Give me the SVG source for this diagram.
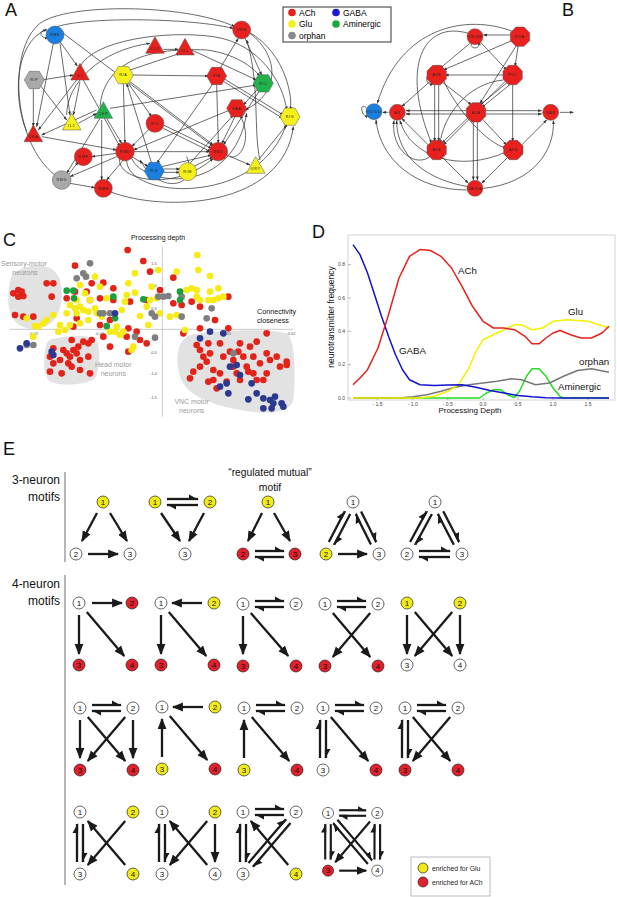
<svg xmlns="http://www.w3.org/2000/svg" xmlns:xlink="http://www.w3.org/1999/xlink" width="617" height="897" viewBox="0 0 617 897">
<style>
text{font-family:"Liberation Sans",Arial,sans-serif;}
.pl{font-size:18px;fill:#111;}
.ed{fill:none;stroke:#333;stroke-width:2.2;marker-end:url(#sa);}
.nl{font-size:11px;fill:#222;text-anchor:middle;letter-spacing:2px;}
.R{fill:#e8211e;stroke:#555;stroke-width:1.5;}
.Y{fill:#f5ef1a;stroke:#555;stroke-width:1.5;}
.G{fill:#a9a9a9;stroke:#555;stroke-width:1.5;}
.B{fill:#1a7fe0;stroke:#555;stroke-width:1.5;}
.N{fill:#22b24c;stroke:#555;stroke-width:1.5;}
.cr{fill:#e2231a;}.cy{fill:#f6eb16;}.cg{fill:#7f7f7f;}.cn{fill:#1a9f3c;}.cb{fill:#2b3990;}
.tk{font-size:12px;fill:#555;text-anchor:middle;}
.blab{font-size:21px;fill:#9a9a9a;text-anchor:middle;}
.crv{fill:none;stroke-width:1.5;stroke-linejoin:round;}
.dl{font-size:9.7px;fill:#111;}
.dt{font-size:5px;fill:#444;}
.ar{stroke:#1a1a1a;stroke-width:2.3;marker-end:url(#ah);}
.hr{stroke:#1a1a1a;stroke-width:2.3;marker-end:url(#hh);}
.w{fill:#fff;stroke:#222;stroke-width:0.7;}
.y{fill:#f2ea16;stroke:#222;stroke-width:0.7;}
.r{fill:#e0202a;stroke:#222;stroke-width:0.7;}
.nt{font-size:8px;fill:#111;text-anchor:middle;}
.lab{font-size:12px;fill:#111;text-anchor:end;}
</style>
<defs>
<marker id="ah" viewBox="0 -5 10 10" refX="9" refY="0" markerWidth="11" markerHeight="11" markerUnits="userSpaceOnUse" orient="auto"><path d="M0,-4 L10,0 L0,4 Z" fill="#1a1a1a"/></marker>
<marker id="hh" viewBox="0 -5 10 10" refX="9" refY="0" markerWidth="10" markerHeight="10" markerUnits="userSpaceOnUse" orient="auto"><path d="M0,-4.5 L10,1.1 L0,1.1 Z" fill="#1a1a1a"/></marker>
<marker id="sa" viewBox="0 -5 10 10" refX="9" refY="0" markerWidth="12" markerHeight="12" markerUnits="userSpaceOnUse" orient="auto"><path d="M0,-3.5 L10,0 L0,3.5 Z" fill="#333"/></marker>
<path id="hex" d="M-30,0 L-15,-26 L15,-26 L30,0 L15,26 L-15,26 Z"/>
<path id="oct" d="M-12,-29 L12,-29 L29,-12 L29,12 L12,29 L-12,29 L-29,12 L-29,-12 Z"/>
<path id="tri" d="M0,-30 L28,20 L-28,20 Z"/>
</defs>
<rect width="617" height="897" fill="#fff"/>

<!-- Panel A -->
<text class="pl" x="5" y="16">A</text>
<g id="panelA" transform="scale(0.33333)">
<g id="A-edges">
<path class="ed" d="M160,130 L110,380"/>
<path class="ed" d="M180,130 L210,345"/>
<path class="ed" d="M180,125 L232,198"/>
<path class="ed" d="M190,100 L640,440"/>
<path class="ed" d="M145,95 C115,80 115,120 145,112"/>
<path class="ed" d="M125,240 L220,225"/>
<path class="ed" d="M100,265 L100,380"/>
<path class="ed" d="M120,255 L200,360"/>
<path class="ed" d="M230,240 L115,390"/>
<path class="ed" d="M240,245 L220,345"/>
<path class="ed" d="M250,240 L360,440"/>
<path class="ed" d="M125,410 L350,450"/>
<path class="ed" d="M235,370 L290,340"/>
<path class="ed" d="M290,330 L125,405"/>
<path class="ed" d="M320,355 L365,430"/>
<path class="ed" d="M305,360 L305,540"/>
<path class="ed" d="M330,325 L770,255"/>
<path class="ed" d="M300,355 L200,520"/>
<path class="ed" d="M370,250 L375,430"/>
<path class="ed" d="M385,250 L455,350"/>
<path class="ed" d="M395,225 L625,228"/>
<path class="ed" d="M390,245 L640,435"/>
<path class="ed" d="M390,210 L540,160"/>
<path class="ed" d="M490,148 L535,148"/>
<path class="ed" d="M575,150 L770,240"/>
<path class="ed" d="M660,205 L715,115"/>
<path class="ed" d="M650,255 L655,430"/>
<path class="ed" d="M640,250 L470,490"/>
<path class="ed" d="M670,235 L850,345"/>
<path class="ed" d="M672,245 L848,355"/>
<path class="ed" d="M735,115 L785,225"/>
<path class="ed" d="M780,270 L670,435"/>
<path class="ed" d="M775,265 L730,315"/>
<path class="ed" d="M705,350 L665,432"/>
<path class="ed" d="M690,330 L400,450"/>
<path class="ed" d="M490,375 L635,445"/>
<path class="ed" d="M490,385 L632,455"/>
<path class="ed" d="M450,385 L395,440"/>
<path class="ed" d="M400,455 L630,455"/>
<path class="ed" d="M350,460 L275,470"/>
<path class="ed" d="M350,470 L210,530"/>
<path class="ed" d="M370,480 L320,540"/>
<path class="ed" d="M395,470 L445,500"/>
<path class="ed" d="M490,507 L540,507"/>
<path class="ed" d="M490,517 L540,517"/>
<path class="ed" d="M485,500 L635,465"/>
<path class="ed" d="M580,500 L640,470"/>
<path class="ed" d="M680,465 L750,495"/>
<path class="ed" d="M775,480 L860,375"/>
<path class="ed" d="M205,525 L235,485"/>
<path class="ed" d="M210,550 L285,563"/>
<path class="ed" d="M570,490 L700,345"/>
<path class="ed" d="M455,490 L380,250"/>
<path class="ed" d="M165,525 C40,430 20,150 120,70 C200,10 550,10 705,80"/>
<path class="ed" d="M150,90 C200,50 550,50 700,85"/>
<path class="ed" d="M80,395 C40,300 40,130 140,88"/>
<path class="ed" d="M330,575 C500,640 850,620 880,380"/>
<path class="ed" d="M380,480 C380,600 780,620 860,370"/>
<path class="ed" d="M395,475 C430,560 700,590 740,340"/>
<path class="ed" d="M745,95 C860,160 880,300 870,330"/>
<path class="ed" d="M750,100 C840,170 840,280 735,330"/>
<path class="ed" d="M300,320 C310,200 420,140 620,150 C700,160 760,200 780,230"/>
<path class="ed" d="M240,200 C280,120 500,90 640,110 C780,130 850,250 860,330"/>
<path class="ed" d="M200,345 C200,250 300,150 450,130"/>
<path class="ed" d="M560,470 C600,560 480,590 420,480"/>
<path class="ed" d="M780,480 C760,400 780,250 740,120"/>
<path class="ed" d="M360,470 C340,540 520,580 640,475"/>
<path class="ed" d="M690,470 C720,480 760,420 720,345"/>
</g>
<g id="A-RME"><circle class="B" cx="165" cy="105" r="27"/><text class="nl" x="165" y="109">RME</text></g>
<g id="A-IL1"><use href="#tri" class="R" x="240" y="220"/><text class="nl" x="240" y="230">IL1</text></g>
<g id="A-RIP"><use href="#hex" class="G" x="103" y="240"/><text class="nl" x="103" y="244">RIP</text></g>
<g id="A-URA"><use href="#tri" class="R" x="100" y="405"/><text class="nl" x="100" y="415">URA</text></g>
<g id="A-ILE"><use href="#tri" class="Y" x="215" y="370"/><text class="nl" x="215" y="380">IL2</text></g>
<g id="A-CEP"><use href="#tri" class="N" x="310" y="335"/><text class="nl" x="310" y="345">CEP</text></g>
<g id="A-RIA"><use href="#hex" class="Y" x="370" y="225"/><text class="nl" x="370" y="229">RIA</text></g>
<g id="A-OLQ"><use href="#tri" class="R" x="465" y="140"/><text class="nl" x="465" y="150">OLQ</text></g>
<g id="A-OLL"><use href="#tri" class="R" x="555" y="145"/><text class="nl" x="555" y="155">OLL</text></g>
<g id="A-URB"><circle class="R" cx="725" cy="90" r="27"/><text class="nl" x="725" y="94">URB</text></g>
<g id="A-SIB"><use href="#hex" class="R" x="650" y="228"/><text class="nl" x="650" y="232">SIB</text></g>
<g id="A-RIC"><use href="#hex" class="N" x="790" y="250"/><text class="nl" x="790" y="254">RIC</text></g>
<g id="A-SAA"><use href="#hex" class="R" x="710" y="325"/><text class="nl" x="710" y="329">SAA</text></g>
<g id="A-RIG"><use href="#hex" class="Y" x="870" y="350"/><text class="nl" x="870" y="354">RIG</text></g>
<g id="A-RIV"><circle class="R" cx="465" cy="370" r="27"/><text class="nl" x="465" y="374">RIV</text></g>
<g id="A-RMD"><circle class="R" cx="375" cy="455" r="28"/><text class="nl" x="375" y="459">RMD</text></g>
<g id="A-SMD"><circle class="R" cx="655" cy="455" r="28"/><text class="nl" x="655" y="459">SMD</text></g>
<g id="A-RMF"><circle class="R" cx="250" cy="470" r="27"/><text class="nl" x="250" y="474">RMF</text></g>
<g id="A-RMG"><circle class="G" cx="185" cy="540" r="28"/><text class="nl" x="185" y="544">RMG</text></g>
<g id="A-RMH"><circle class="R" cx="310" cy="565" r="27"/><text class="nl" x="310" y="569">RMH</text></g>
<g id="A-RIS"><use href="#hex" class="B" x="463" y="513"/><text class="nl" x="463" y="517">RIS</text></g>
<g id="A-RIM"><circle class="Y" cx="563" cy="515" r="27"/><text class="nl" x="563" y="519">RIM</text></g>
<g id="A-URY"><use href="#tri" class="Y" x="767" y="500"/><text class="nl" x="767" y="510">URY</text></g>
</g>
<g id="legendA">
<rect x="283" y="7" width="108" height="35" fill="#fff" stroke="#333" stroke-width="1"/>
<circle cx="292" cy="12.5" r="3.8" fill="#e8211e"/><text x="299" y="15.8" font-size="8.5">ACh</text>
<circle cx="292" cy="24" r="3.8" fill="#f5ef1a"/><text x="299" y="27.3" font-size="8.5">Glu</text>
<circle cx="292" cy="35.5" r="3.8" fill="#8a8a8a"/><text x="299" y="38.8" font-size="8.5">orphan</text>
<circle cx="336" cy="12.5" r="3.8" fill="#1a1ad0"/><text x="343" y="15.8" font-size="8.5">GABA</text>
<circle cx="336" cy="24" r="3.8" fill="#1aa83a"/><text x="343" y="27.3" font-size="8.5">Aminergic</text>
</g>

<!-- Panel B -->
<text class="pl" x="562" y="16">B</text>
<g id="panelB" transform="translate(300,0) scale(0.33333)">
<g id="B-edges">
<path class="ed" d="M635,105 L550,105"/>
<path class="ed" d="M640,120 L430,210"/>
<path class="ed" d="M655,135 L645,200"/>
<path class="ed" d="M650,135 L540,310"/>
<path class="ed" d="M540,125 L620,210"/>
<path class="ed" d="M510,130 L420,205"/>
<path class="ed" d="M615,225 L435,225"/>
<path class="ed" d="M425,245 L515,315"/>
<path class="ed" d="M404,250 L404,425"/>
<path class="ed" d="M416,250 L416,425"/>
<path class="ed" d="M395,240 L305,320"/>
<path class="ed" d="M625,245 L540,315"/>
<path class="ed" d="M632,252 L546,322"/>
<path class="ed" d="M638,250 L638,425"/>
<path class="ed" d="M620,240 L425,430"/>
<path class="ed" d="M500,332 L318,332"/>
<path class="ed" d="M500,342 L318,342"/>
<path class="ed" d="M555,332 L725,332"/>
<path class="ed" d="M555,342 L725,342"/>
<path class="ed" d="M510,355 L430,435"/>
<path class="ed" d="M545,355 L620,435"/>
<path class="ed" d="M520,365 L520,540"/>
<path class="ed" d="M532,365 L532,540"/>
<path class="ed" d="M265,337 L248,337"/>
<path class="ed" d="M390,440 L305,355"/>
<path class="ed" d="M425,470 L505,550"/>
<path class="ed" d="M625,470 L545,550"/>
<path class="ed" d="M660,440 L740,360"/>
<path class="ed" d="M780,337 L820,337"/>
<path class="ed" d="M640,95 C500,40 300,80 232,310"/>
<path class="ed" d="M505,100 C370,60 300,200 395,430"/>
<path class="ed" d="M500,570 C350,570 240,480 228,360"/>
<path class="ed" d="M505,560 C380,540 290,470 290,362"/>
<path class="ed" d="M550,565 C700,550 765,450 760,362"/>
<path class="ed" d="M620,455 C480,520 330,470 300,362"/>
<path class="ed" d="M395,465 C350,510 270,450 282,362"/>
<path class="ed" d="M610,240 C500,250 430,350 420,430"/>
<path class="ed" d="M430,240 C470,330 560,430 620,445"/>
<path class="ed" d="M395,215 C370,230 380,260 400,250"/>
<path class="ed" d="M200,325 C175,300 185,360 205,345"/>
<path class="ed" d="M515,125 C505,150 545,150 535,125"/>
</g>
<g id="B-VBDB"><circle class="R" cx="525" cy="110" r="24"/><text class="nl" x="525" y="114" letter-spacing="0">VB/DB</text></g>
<g id="B-DVA"><use href="#oct" class="R" x="660" y="110"/><text class="nl" x="660" y="114">DVA</text></g>
<g id="B-AVB"><use href="#oct" class="R" x="410" y="225"/><text class="nl" x="410" y="229">AVB</text></g>
<g id="B-PVC"><use href="#oct" class="R" x="638" y="225"/><text class="nl" x="638" y="229">PVC</text></g>
<g id="B-VDDD"><circle class="B" cx="222" cy="335" r="24"/><text class="nl" x="222" y="339" letter-spacing="0">VD/DD</text></g>
<g id="B-AS"><circle class="R" cx="292" cy="337" r="24"/><text class="nl" x="292" y="341">AS</text></g>
<g id="B-AVA"><use href="#oct" class="R" x="528" y="337"/><text class="nl" x="528" y="341">AVA</text></g>
<g id="B-SAB"><circle class="R" cx="752" cy="337" r="24"/><text class="nl" x="752" y="341">SAB</text></g>
<g id="B-AVE"><use href="#oct" class="R" x="410" y="450"/><text class="nl" x="410" y="454">AVE</text></g>
<g id="B-AVD"><use href="#oct" class="R" x="640" y="450"/><text class="nl" x="640" y="454">AVD</text></g>
<g id="B-VADA"><circle class="R" cx="525" cy="565" r="24"/><text class="nl" x="525" y="569" letter-spacing="0">VA/DA</text></g>
</g>

<!-- Panel C -->
<text class="pl" x="3" y="246">C</text>
<g id="panelC" transform="translate(0,200) scale(0.33333)">
<path d="M40,220 C80,190 160,180 180,240 C195,300 180,370 120,385 C60,395 25,360 25,300 C25,260 30,230 40,220 Z" fill="#e2e2e2"/>
<path d="M170,415 C220,405 270,405 290,420 C302,450 300,510 285,535 C260,555 190,560 150,545 C130,530 128,470 140,430 C148,418 158,416 170,415 Z" fill="#e2e2e2"/>
<path d="M570,405 C640,390 800,385 860,400 C890,420 885,560 880,600 C870,640 800,645 720,630 C640,615 560,590 540,530 C525,480 530,420 570,405 Z" fill="#e2e2e2"/>
<line x1="487" y1="140" x2="487" y2="650" stroke="#b0b0b0" stroke-width="2"/>
<line x1="30" y1="388" x2="880" y2="388" stroke="#b0b0b0" stroke-width="2"/>
<text class="tk" x="462" y="194">1.5</text>
<text class="tk" x="462" y="261">1.0</text>
<text class="tk" x="462" y="329">0.5</text>
<text class="tk" x="460" y="461">-0.5</text>
<text class="tk" x="460" y="526">-1.0</text>
<text class="tk" x="460" y="596">-1.5</text>
<text class="tk" x="100" y="406">-0.02</text>
<text class="tk" x="298" y="406">-0.01</text>
<text class="tk" x="682" y="406">0.01</text>
<text class="tk" x="875" y="406">0.02</text>
<text class="blab" x="72" y="199">Sensory-motor</text>
<text class="blab" x="75" y="226">neurons</text>
<text class="blab" x="340" y="501">Head motor</text>
<text class="blab" x="340" y="528">neurons</text>
<text class="blab" x="575" y="611">VNC motor</text>
<text class="blab" x="575" y="638">neurons</text>
<g class="cr">
<circle cx="383" cy="150" r="10"/><circle cx="430" cy="183" r="10"/><circle cx="225" cy="197" r="10"/><circle cx="450" cy="215" r="10"/><circle cx="520" cy="233" r="10"/><circle cx="340" cy="265" r="10"/><circle cx="480" cy="270" r="10"/><circle cx="140" cy="250" r="10"/><circle cx="160" cy="250" r="10"/><circle cx="55" cy="270" r="10"/><circle cx="40" cy="280" r="10"/><circle cx="65" cy="275" r="10"/><circle cx="55" cy="290" r="10"/><circle cx="70" cy="288" r="10"/><circle cx="155" cy="290" r="10"/><circle cx="200" cy="295" r="10"/><circle cx="225" cy="275" r="10"/><circle cx="275" cy="250" r="10"/><circle cx="310" cy="248" r="10"/><circle cx="300" cy="295" r="10"/><circle cx="390" cy="305" r="10"/><circle cx="440" cy="300" r="10"/><circle cx="520" cy="310" r="10"/><circle cx="545" cy="315" r="10"/><circle cx="575" cy="305" r="10"/><circle cx="600" cy="320" r="10"/><circle cx="645" cy="360" r="10"/><circle cx="685" cy="290" r="10"/><circle cx="260" cy="275" r="10"/><circle cx="230" cy="355" r="10"/><circle cx="220" cy="380" r="10"/><circle cx="300" cy="375" r="10"/><circle cx="330" cy="360" r="10"/><circle cx="385" cy="385" r="10"/><circle cx="410" cy="395" r="10"/><circle cx="380" cy="410" r="10"/><circle cx="420" cy="420" r="10"/><circle cx="440" cy="430" r="10"/><circle cx="330" cy="440" r="10"/><circle cx="310" cy="410" r="10"/><circle cx="385" cy="455" r="10"/><circle cx="45" cy="345" r="10"/><circle cx="70" cy="350" r="10"/><circle cx="100" cy="350" r="10"/><circle cx="270" cy="300" r="10"/><circle cx="340" cy="300" r="10"/><circle cx="550" cy="400" r="10"/><circle cx="600" cy="385" r="10"/><circle cx="685" cy="385" r="10"/><circle cx="720" cy="430" r="10"/><circle cx="770" cy="425" r="10"/><circle cx="800" cy="400" r="10"/><circle cx="590" cy="435" r="10"/><circle cx="600" cy="450" r="10"/><circle cx="625" cy="430" r="10"/><circle cx="660" cy="430" r="10"/><circle cx="690" cy="455" r="10"/><circle cx="730" cy="470" r="10"/><circle cx="750" cy="440" r="10"/><circle cx="800" cy="460" r="10"/><circle cx="830" cy="470" r="10"/><circle cx="860" cy="485" r="10"/><circle cx="700" cy="480" r="10"/><circle cx="740" cy="500" r="10"/><circle cx="780" cy="490" r="10"/><circle cx="620" cy="485" r="10"/><circle cx="640" cy="510" r="10"/><circle cx="660" cy="520" r="10"/><circle cx="700" cy="500" r="10"/><circle cx="710" cy="520" r="10"/><circle cx="760" cy="520" r="10"/><circle cx="800" cy="520" r="10"/><circle cx="580" cy="515" r="10"/><circle cx="570" cy="535" r="10"/><circle cx="640" cy="540" r="10"/><circle cx="680" cy="545" r="10"/><circle cx="650" cy="565" r="10"/><circle cx="720" cy="540" r="10"/><circle cx="790" cy="540" r="10"/><circle cx="610" cy="470" r="10"/><circle cx="840" cy="500" r="10"/><circle cx="760" cy="470" r="10"/><circle cx="810" cy="480" r="10"/><circle cx="150" cy="470" r="10"/><circle cx="160" cy="490" r="10"/><circle cx="190" cy="450" r="10"/><circle cx="200" cy="460" r="10"/><circle cx="210" cy="470" r="10"/><circle cx="220" cy="450" r="10"/><circle cx="230" cy="460" r="10"/><circle cx="240" cy="480" r="10"/><circle cx="205" cy="490" r="10"/><circle cx="215" cy="500" r="10"/><circle cx="180" cy="480" r="10"/><circle cx="150" cy="515" r="10"/><circle cx="185" cy="520" r="10"/><circle cx="240" cy="510" r="10"/><circle cx="270" cy="520" r="10"/><circle cx="265" cy="470" r="10"/><circle cx="265" cy="430" r="10"/><circle cx="250" cy="425" r="10"/><circle cx="215" cy="420" r="10"/><circle cx="235" cy="440" r="10"/><circle cx="275" cy="420" r="10"/><circle cx="160" cy="445" r="10"/><circle cx="860" cy="495" r="10"/><circle cx="630" cy="460" r="10"/><circle cx="670" cy="470" r="10"/><circle cx="715" cy="455" r="10"/><circle cx="745" cy="515" r="10"/><circle cx="770" cy="540" r="10"/><circle cx="600" cy="500" r="10"/><circle cx="625" cy="545" r="10"/>
</g>
<g class="cy">
<circle cx="592" cy="165" r="10"/><circle cx="595" cy="210" r="10"/><circle cx="630" cy="228" r="10"/><circle cx="530" cy="215" r="10"/><circle cx="405" cy="220" r="10"/><circle cx="385" cy="250" r="10"/><circle cx="405" cy="278" r="10"/><circle cx="380" cy="285" r="10"/><circle cx="375" cy="305" r="10"/><circle cx="365" cy="330" r="10"/><circle cx="420" cy="348" r="10"/><circle cx="440" cy="320" r="10"/><circle cx="450" cy="300" r="10"/><circle cx="470" cy="295" r="10"/><circle cx="480" cy="340" r="10"/><circle cx="510" cy="350" r="10"/><circle cx="530" cy="345" r="10"/><circle cx="555" cy="390" r="10"/><circle cx="560" cy="270" r="10"/><circle cx="575" cy="265" r="10"/><circle cx="590" cy="270" r="10"/><circle cx="590" cy="290" r="10"/><circle cx="600" cy="300" r="10"/><circle cx="630" cy="275" r="10"/><circle cx="655" cy="265" r="10"/><circle cx="625" cy="300" r="10"/><circle cx="640" cy="300" r="10"/><circle cx="655" cy="295" r="10"/><circle cx="670" cy="290" r="10"/><circle cx="475" cy="210" r="10"/><circle cx="285" cy="230" r="10"/><circle cx="240" cy="255" r="10"/><circle cx="255" cy="280" r="10"/><circle cx="230" cy="300" r="10"/><circle cx="210" cy="315" r="10"/><circle cx="240" cy="320" r="10"/><circle cx="250" cy="330" r="10"/><circle cx="265" cy="335" r="10"/><circle cx="285" cy="325" r="10"/><circle cx="200" cy="340" r="10"/><circle cx="230" cy="340" r="10"/><circle cx="160" cy="345" r="10"/><circle cx="140" cy="360" r="10"/><circle cx="130" cy="370" r="10"/><circle cx="115" cy="380" r="10"/><circle cx="80" cy="355" r="10"/><circle cx="105" cy="378" r="10"/><circle cx="180" cy="375" r="10"/><circle cx="175" cy="395" r="10"/><circle cx="195" cy="390" r="10"/><circle cx="210" cy="375" r="10"/><circle cx="240" cy="370" r="10"/><circle cx="265" cy="360" r="10"/><circle cx="290" cy="340" r="10"/><circle cx="305" cy="350" r="10"/><circle cx="350" cy="380" r="10"/><circle cx="360" cy="405" r="10"/><circle cx="400" cy="440" r="10"/><circle cx="395" cy="450" r="10"/><circle cx="330" cy="395" r="10"/><circle cx="345" cy="395" r="10"/><circle cx="370" cy="395" r="10"/><circle cx="100" cy="410" r="10"/><circle cx="225" cy="325" r="10"/><circle cx="320" cy="295" r="10"/><circle cx="300" cy="260" r="10"/><circle cx="270" cy="300" r="10"/><circle cx="455" cy="260" r="10"/><circle cx="445" cy="375" r="10"/>
</g>
<g class="cg">
<circle cx="270" cy="190" r="10"/><circle cx="250" cy="220" r="10"/><circle cx="258" cy="230" r="10"/><circle cx="230" cy="235" r="10"/><circle cx="300" cy="340" r="10"/><circle cx="310" cy="340" r="10"/><circle cx="455" cy="340" r="10"/><circle cx="465" cy="350" r="10"/><circle cx="545" cy="350" r="10"/><circle cx="620" cy="355" r="10"/><circle cx="635" cy="325" r="10"/><circle cx="475" cy="290" r="10"/><circle cx="490" cy="290" r="10"/><circle cx="505" cy="288" r="10"/><circle cx="405" cy="410" r="10"/><circle cx="465" cy="413" r="10"/><circle cx="700" cy="460" r="10"/><circle cx="80" cy="435" r="10"/><circle cx="100" cy="435" r="10"/><circle cx="330" cy="340" r="10"/><circle cx="545" cy="290" r="10"/>
</g>
<g class="cn">
<circle cx="200" cy="272" r="10"/><circle cx="220" cy="272" r="10"/><circle cx="222" cy="295" r="10"/><circle cx="340" cy="290" r="10"/><circle cx="345" cy="355" r="10"/><circle cx="320" cy="378" r="10"/><circle cx="430" cy="298" r="10"/><circle cx="540" cy="275" r="10"/><circle cx="540" cy="300" r="10"/>
</g>
<g class="cb">
<circle cx="345" cy="340" r="10"/><circle cx="155" cy="455" r="10"/><circle cx="160" cy="465" r="10"/><circle cx="80" cy="430" r="10"/><circle cx="60" cy="445" r="10"/><circle cx="600" cy="415" r="10"/><circle cx="630" cy="395" r="10"/><circle cx="670" cy="400" r="10"/><circle cx="690" cy="500" r="10"/><circle cx="710" cy="495" r="10"/><circle cx="660" cy="560" r="10"/><circle cx="680" cy="550" r="10"/><circle cx="685" cy="580" r="10"/><circle cx="720" cy="525" r="10"/><circle cx="755" cy="550" r="10"/><circle cx="770" cy="580" r="10"/><circle cx="745" cy="598" r="10"/><circle cx="790" cy="595" r="10"/><circle cx="810" cy="600" r="10"/><circle cx="825" cy="590" r="10"/><circle cx="820" cy="610" r="10"/><circle cx="845" cy="610" r="10"/><circle cx="850" cy="620" r="10"/><circle cx="790" cy="625" r="10"/><circle cx="815" cy="625" r="10"/>
</g>
</g>
<text x="158" y="240" font-size="7" text-anchor="middle" fill="#111">Processing depth</text>
<text x="257" y="314" font-size="7.2" fill="#111">Connectivity</text>
<text x="257" y="323" font-size="7.2" fill="#111">closeness</text>

<!-- Panel D -->
<text class="pl" x="312" y="238">D</text>
<g id="panelD">
<rect x="348" y="235" width="267" height="165" fill="none" stroke="#c8c8c8" stroke-width="0.8"/>
<g stroke="#888" stroke-width="0.6">
<line x1="348" y1="398" x2="351" y2="398"/><line x1="348" y1="364.7" x2="351" y2="364.7"/><line x1="348" y1="331.3" x2="351" y2="331.3"/><line x1="348" y1="298" x2="351" y2="298"/><line x1="348" y1="264.7" x2="351" y2="264.7"/>
<line x1="377.5" y1="400" x2="377.5" y2="397"/><line x1="412.7" y1="400" x2="412.7" y2="397"/><line x1="447.8" y1="400" x2="447.8" y2="397"/><line x1="483" y1="400" x2="483" y2="397"/><line x1="518" y1="400" x2="518" y2="397"/><line x1="553" y1="400" x2="553" y2="397"/><line x1="588" y1="400" x2="588" y2="397"/>
</g>
<g class="dt" text-anchor="end">
<text x="345" y="399.7">0.0</text><text x="345" y="366.4">0.2</text><text x="345" y="333">0.4</text><text x="345" y="299.7">0.6</text><text x="345" y="266.4">0.8</text>
</g>
<g class="dt" text-anchor="middle">
<text x="377.5" y="406">- 1.5</text><text x="412.7" y="406">- 1.0</text><text x="447.8" y="406">- 0.5</text><text x="483" y="406">0.0</text><text x="518" y="406">0.5</text><text x="553" y="406">1.0</text><text x="588" y="406">1.5</text>
</g>
<polyline class="crv" stroke="#22dd22" points="353,398 479.5,398 486.5,393 493.5,389.7 500.5,389.7 507.5,394.7 514.5,397.5 519.5,391.3 526.5,376.3 532,368.8 539,368.8 546,376.3 553,388 560,396.3 563.5,398 609,398"/>
<polyline class="crv" stroke="#777" points="353,398 399,398 413,396.7 427,394.7 441,391.3 455,387.2 469,384.7 483,383 497,381.3 511,378.8 521.5,379.7 535.5,384.7 549.5,383 563.5,376.3 577.5,370.5 591.5,368.8 609,372.2"/>
<polyline class="crv" stroke="#f5f000" points="353,398 420,398 434,396.3 448,391.3 458.5,384.7 469,368 476,351.3 483,339.7 493.5,334.7 504,329.7 514.5,324.7 521.5,324.7 532,329.7 542.5,328 553,321.3 567,319.7 588,321.3 609,328"/>
<polyline class="crv" stroke="#1212cc" points="353,244.6 360,254.6 367.5,273 374.5,294.6 381.5,316.3 388.5,336.3 395.5,354.7 402.5,369.7 409.5,379.7 420,384.7 434,385.5 448,385 462,384.7 476,387.2 490,390.5 504,393 518,395.5 532,396.8 546,397.7 560,398 609,398"/>
<polyline class="crv" stroke="#e8211e" points="353,384.7 360,378 367.5,369.7 378,348 388.5,314.7 399,278 409.5,256.3 420,249.6 430.5,250.5 441,256.3 451.5,268 462,286.3 472.5,306.3 483,321.3 493.5,328 504,328 514.5,329.7 525,336.3 532,343.8 539,343.8 546,338 553,333 560,330.5 570.5,334.7 581,338 591.5,338 602,333 609,326.3"/>
<text class="dl" x="458" y="274">ACh</text>
<text class="dl" x="568" y="315">Glu</text>
<text class="dl" x="399" y="354">GABA</text>
<text class="dl" x="579" y="365">orphan</text>
<text class="dl" x="558" y="390">Aminergic</text>
<text x="334" y="317" font-size="8.5" text-anchor="middle" fill="#111" transform="rotate(-90 334 317)">neurotransmitter frequency</text>
<text x="470" y="413" font-size="8" text-anchor="middle" fill="#111">Processing Depth</text>
</g>

<!-- Panel E -->
<text class="pl" x="3" y="455">E</text>
<g id="E-labels">
<text class="lab" x="60" y="484">3-neuron</text>
<text class="lab" x="60" y="501">motifs</text>
<line x1="65" y1="472" x2="65" y2="562" stroke="#888" stroke-width="1.2"/>
<text x="270" y="476" font-size="10.3" text-anchor="middle" fill="#111">“regulated mutual”</text>
<text x="270" y="491" font-size="10.3" text-anchor="middle" fill="#111">motif</text>
<text class="lab" x="60" y="588">4-neuron</text>
<text class="lab" x="60" y="605">motifs</text>
<line x1="65" y1="575" x2="65" y2="885" stroke="#888" stroke-width="1.2"/>
</g>

<!-- 3-neuron motifs -->
<g id="connectors3">
<line class="ar" x1="97" y1="513" x2="82" y2="541"/>
<line class="ar" x1="110" y1="513" x2="127" y2="541"/>
<line class="ar" x1="88" y1="554" x2="118" y2="554"/>

<line class="hr" x1="167" y1="499" x2="198" y2="499"/>
<line class="hr" x1="198" y1="505" x2="167" y2="505"/>
<line class="ar" x1="161" y1="513" x2="180" y2="541"/>
<line class="ar" x1="204" y1="513" x2="189" y2="541"/>

<line class="ar" x1="262" y1="513" x2="248" y2="541"/>
<line class="ar" x1="274" y1="513" x2="290" y2="541"/>
<line class="hr" x1="255" y1="551" x2="284" y2="551"/>
<line class="hr" x1="284" y1="557" x2="255" y2="557"/>

<line class="hr" x1="350.2" y1="514" x2="334.2" y2="544.8"/>
<line class="hr" x1="328.8" y1="542" x2="344.8" y2="511.2"/>
<line class="hr" x1="361.1" y1="511.4" x2="376.3" y2="542"/>
<line class="hr" x1="370.9" y1="544.6" x2="355.7" y2="514"/>
<line class="ar" x1="338" y1="554" x2="367" y2="554"/>

<line class="hr" x1="431.9" y1="514" x2="415.3" y2="544.8"/>
<line class="hr" x1="410.1" y1="542" x2="426.7" y2="511.2"/>
<line class="hr" x1="443.2" y1="511.2" x2="459.2" y2="542"/>
<line class="hr" x1="453.8" y1="544.8" x2="437.8" y2="514"/>
<line class="hr" x1="419" y1="551" x2="450" y2="551"/>
<line class="hr" x1="450" y1="557" x2="419" y2="557"/>
</g>
<g id="nodes3">
<g id="m3a"><circle class="y" cx="103" cy="502" r="6"/><text class="nt" x="103" y="504.8">1</text><circle class="w" cx="76" cy="554" r="6"/><text class="nt" x="76" y="556.8">2</text><circle class="w" cx="130" cy="554" r="6"/><text class="nt" x="130" y="556.8">3</text></g>
<g id="m3b"><circle class="y" cx="155" cy="502" r="6"/><text class="nt" x="155" y="504.8">1</text><circle class="y" cx="210" cy="502" r="6"/><text class="nt" x="210" y="504.8">2</text><circle class="w" cx="185" cy="554" r="6"/><text class="nt" x="185" y="556.8">3</text></g>
<g id="m3c"><circle class="y" cx="268" cy="502" r="6"/><text class="nt" x="268" y="504.8">1</text><circle class="r" cx="243" cy="554" r="6"/><text class="nt" x="243" y="556.8">2</text><circle class="r" cx="295" cy="554" r="6"/><text class="nt" x="295" y="556.8">3</text></g>
<g id="m3d"><circle class="w" cx="353" cy="502" r="6"/><text class="nt" x="353" y="504.8">1</text><circle class="y" cx="326" cy="554" r="6"/><text class="nt" x="326" y="556.8">2</text><circle class="w" cx="379" cy="554" r="6"/><text class="nt" x="379" y="556.8">3</text></g>
<g id="m3e"><circle class="w" cx="435" cy="502" r="6"/><text class="nt" x="435" y="504.8">1</text><circle class="w" cx="407" cy="554" r="6"/><text class="nt" x="407" y="556.8">2</text><circle class="w" cx="462" cy="554" r="6"/><text class="nt" x="462" y="556.8">3</text></g>
</g>

<!-- 4-neuron motifs: local coords 1(0,0) 2(53,0) 3(0,62) 4(53,62) -->
<g id="m4A" transform="translate(79,603)">
<line class="ar" x1="13" y1="0" x2="43" y2="0"/>
<line class="ar" x1="0" y1="12" x2="0" y2="51"/>
<line class="ar" x1="7.8" y1="9.1" x2="45.2" y2="52.9"/>
<circle class="w" cx="0" cy="0" r="6"/><text class="nt" x="0" y="2.8">1</text>
<circle class="r" cx="53" cy="0" r="6"/><text class="nt" x="53" y="2.8">2</text>
<circle class="r" cx="0" cy="62" r="6"/><text class="nt" x="0" y="64.8">3</text>
<circle class="r" cx="53" cy="62" r="6"/><text class="nt" x="53" y="64.8">4</text>
</g>
<g id="m4B" transform="translate(161,603)">
<line class="ar" x1="41" y1="0" x2="11" y2="0"/>
<line class="ar" x1="0" y1="12" x2="0" y2="51"/>
<line class="ar" x1="7.8" y1="9.1" x2="45.2" y2="52.9"/>
<circle class="w" cx="0" cy="0" r="6"/><text class="nt" x="0" y="2.8">1</text>
<circle class="y" cx="53" cy="0" r="6"/><text class="nt" x="53" y="2.8">2</text>
<circle class="r" cx="0" cy="62" r="6"/><text class="nt" x="0" y="64.8">3</text>
<circle class="r" cx="53" cy="62" r="6"/><text class="nt" x="53" y="64.8">4</text>
</g>
<g id="m4C" transform="translate(243,604)">
<line class="hr" x1="12" y1="-3" x2="41" y2="-3"/><line class="hr" x1="41" y1="3" x2="12" y2="3"/>
<line class="ar" x1="0" y1="12" x2="0" y2="50"/>
<line class="ar" x1="7.8" y1="9.1" x2="45.2" y2="51.9"/>
<circle class="w" cx="0" cy="0" r="6"/><text class="nt" x="0" y="2.8">1</text>
<circle class="w" cx="53" cy="0" r="6"/><text class="nt" x="53" y="2.8">2</text>
<circle class="r" cx="0" cy="62" r="6"/><text class="nt" x="0" y="64.8">3</text>
<circle class="r" cx="53" cy="62" r="6"/><text class="nt" x="53" y="64.8">4</text>
</g>
<g id="m4D" transform="translate(325,604)">
<line class="hr" x1="12" y1="-3" x2="41" y2="-3"/><line class="hr" x1="41" y1="3" x2="12" y2="3"/>
<line class="ar" x1="7.8" y1="9.1" x2="45.2" y2="52.9"/>
<line class="ar" x1="45.2" y1="9.1" x2="7.8" y2="52.9"/>
<circle class="w" cx="0" cy="0" r="6"/><text class="nt" x="0" y="2.8">1</text>
<circle class="w" cx="53" cy="0" r="6"/><text class="nt" x="53" y="2.8">2</text>
<circle class="r" cx="0" cy="62" r="6"/><text class="nt" x="0" y="64.8">3</text>
<circle class="r" cx="53" cy="62" r="6"/><text class="nt" x="53" y="64.8">4</text>
</g>
<g id="m4E" transform="translate(407,603)">
<line class="ar" x1="0" y1="12" x2="0" y2="51"/>
<line class="ar" x1="53" y1="12" x2="53" y2="51"/>
<line class="ar" x1="7.8" y1="9.1" x2="45.2" y2="52.9"/>
<line class="ar" x1="45.2" y1="9.1" x2="7.8" y2="52.9"/>
<circle class="y" cx="0" cy="0" r="6"/><text class="nt" x="0" y="2.8">1</text>
<circle class="y" cx="53" cy="0" r="6"/><text class="nt" x="53" y="2.8">2</text>
<circle class="w" cx="0" cy="62" r="6"/><text class="nt" x="0" y="64.8">3</text>
<circle class="w" cx="53" cy="62" r="6"/><text class="nt" x="53" y="64.8">4</text>
</g>

<g id="m4F" transform="translate(80,708)">
<line class="hr" x1="12" y1="-3" x2="41" y2="-3"/><line class="hr" x1="41" y1="3" x2="12" y2="3"/>
<line class="ar" x1="0" y1="12" x2="0" y2="50"/>
<line class="ar" x1="53" y1="12" x2="53" y2="50"/>
<line class="ar" x1="7.8" y1="9.1" x2="45.2" y2="52.9"/>
<line class="ar" x1="45.2" y1="9.1" x2="7.8" y2="52.9"/>
<circle class="w" cx="0" cy="0" r="6"/><text class="nt" x="0" y="2.8">1</text>
<circle class="w" cx="53" cy="0" r="6"/><text class="nt" x="53" y="2.8">2</text>
<circle class="r" cx="0" cy="62" r="6"/><text class="nt" x="0" y="64.8">3</text>
<circle class="r" cx="53" cy="62" r="6"/><text class="nt" x="53" y="64.8">4</text>
</g>
<g id="m4G" transform="translate(162,707)">
<line class="ar" x1="41" y1="0" x2="11" y2="0"/>
<line class="ar" x1="0" y1="50" x2="0" y2="12"/>
<line class="ar" x1="7.8" y1="9.1" x2="45.2" y2="52.9"/>
<circle class="w" cx="0" cy="0" r="6"/><text class="nt" x="0" y="2.8">1</text>
<circle class="y" cx="53" cy="0" r="6"/><text class="nt" x="53" y="2.8">2</text>
<circle class="y" cx="0" cy="62" r="6"/><text class="nt" x="0" y="64.8">3</text>
<circle class="r" cx="53" cy="62" r="6"/><text class="nt" x="53" y="64.8">4</text>
</g>
<g id="m4H" transform="translate(244,708)">
<line class="hr" x1="12" y1="-3" x2="41" y2="-3"/><line class="hr" x1="41" y1="3" x2="12" y2="3"/>
<line class="ar" x1="0" y1="50" x2="0" y2="12"/>
<line class="ar" x1="7.8" y1="9.1" x2="45.2" y2="52.9"/>
<circle class="w" cx="0" cy="0" r="6"/><text class="nt" x="0" y="2.8">1</text>
<circle class="w" cx="53" cy="0" r="6"/><text class="nt" x="53" y="2.8">2</text>
<circle class="y" cx="0" cy="62" r="6"/><text class="nt" x="0" y="64.8">3</text>
<circle class="r" cx="53" cy="62" r="6"/><text class="nt" x="53" y="64.8">4</text>
</g>
<g id="m4I" transform="translate(323,708)">
<line class="hr" x1="12" y1="-3" x2="41" y2="-3"/><line class="hr" x1="41" y1="3" x2="12" y2="3"/>
<line class="hr" x1="3" y1="12" x2="3" y2="50"/><line class="hr" x1="-3" y1="50" x2="-3" y2="12"/>
<line class="ar" x1="7.8" y1="9.1" x2="45.2" y2="52.9"/>
<circle class="w" cx="0" cy="0" r="6"/><text class="nt" x="0" y="2.8">1</text>
<circle class="w" cx="53" cy="0" r="6"/><text class="nt" x="53" y="2.8">2</text>
<circle class="w" cx="0" cy="62" r="6"/><text class="nt" x="0" y="64.8">3</text>
<circle class="r" cx="53" cy="62" r="6"/><text class="nt" x="53" y="64.8">4</text>
</g>
<g id="m4J" transform="translate(405,708)">
<line class="hr" x1="12" y1="-3" x2="41" y2="-3"/><line class="hr" x1="41" y1="3" x2="12" y2="3"/>
<line class="hr" x1="3" y1="12" x2="3" y2="50"/><line class="hr" x1="-3" y1="50" x2="-3" y2="12"/>
<line class="ar" x1="7.8" y1="9.1" x2="45.2" y2="52.9"/>
<line class="ar" x1="45.2" y1="9.1" x2="7.8" y2="52.9"/>
<circle class="w" cx="0" cy="0" r="6"/><text class="nt" x="0" y="2.8">1</text>
<circle class="w" cx="53" cy="0" r="6"/><text class="nt" x="53" y="2.8">2</text>
<circle class="r" cx="0" cy="62" r="6"/><text class="nt" x="0" y="64.8">3</text>
<circle class="r" cx="53" cy="62" r="6"/><text class="nt" x="53" y="64.8">4</text>
</g>

<g id="m4K" transform="translate(80,812)">
<line class="hr" x1="3" y1="12" x2="3" y2="50"/><line class="hr" x1="-3" y1="50" x2="-3" y2="12"/>
<line class="ar" x1="45.2" y1="52.9" x2="7.8" y2="9.1"/>
<line class="ar" x1="45.2" y1="9.1" x2="7.8" y2="52.9"/>
<circle class="w" cx="0" cy="0" r="6"/><text class="nt" x="0" y="2.8">1</text>
<circle class="y" cx="53" cy="0" r="6"/><text class="nt" x="53" y="2.8">2</text>
<circle class="w" cx="0" cy="62" r="6"/><text class="nt" x="0" y="64.8">3</text>
<circle class="y" cx="53" cy="62" r="6"/><text class="nt" x="53" y="64.8">4</text>
</g>
<g id="m4L" transform="translate(162,812)">
<line class="hr" x1="3" y1="12" x2="3" y2="50"/><line class="hr" x1="-3" y1="50" x2="-3" y2="12"/>
<line class="ar" x1="45.2" y1="52.9" x2="7.8" y2="9.1"/>
<line class="ar" x1="45.2" y1="9.1" x2="7.8" y2="52.9"/>
<line class="ar" x1="53" y1="12" x2="53" y2="50"/>
<circle class="w" cx="0" cy="0" r="6"/><text class="nt" x="0" y="2.8">1</text>
<circle class="y" cx="53" cy="0" r="6"/><text class="nt" x="53" y="2.8">2</text>
<circle class="w" cx="0" cy="62" r="6"/><text class="nt" x="0" y="64.8">3</text>
<circle class="w" cx="53" cy="62" r="6"/><text class="nt" x="53" y="64.8">4</text>
</g>
<g id="m4M" transform="translate(243,812)">
<line class="hr" x1="12" y1="-3" x2="41" y2="-3"/><line class="hr" x1="41" y1="3" x2="12" y2="3"/>
<line class="hr" x1="3" y1="12" x2="3" y2="50"/><line class="hr" x1="-3" y1="50" x2="-3" y2="12"/>
<line class="ar" x1="45.2" y1="52.9" x2="7.8" y2="9.1"/>
<line class="hr" x1="47.5" y1="11" x2="10.1" y2="54.8"/><line class="hr" x1="5.5" y1="51" x2="42.9" y2="7.2"/>
<circle class="w" cx="0" cy="0" r="6"/><text class="nt" x="0" y="2.8">1</text>
<circle class="w" cx="53" cy="0" r="6"/><text class="nt" x="53" y="2.8">2</text>
<circle class="w" cx="0" cy="62" r="6"/><text class="nt" x="0" y="64.8">3</text>
<circle class="y" cx="53" cy="62" r="6"/><text class="nt" x="53" y="64.8">4</text>
</g>
<g id="m4N" transform="translate(328,813) scale(0.93)">
<line class="hr" x1="12" y1="-3" x2="41" y2="-3"/><line class="hr" x1="41" y1="3" x2="12" y2="3"/>
<line class="hr" x1="3" y1="12" x2="3" y2="50"/><line class="hr" x1="-3" y1="50" x2="-3" y2="12"/>
<line class="hr" x1="56" y1="12" x2="56" y2="50"/><line class="hr" x1="50" y1="50" x2="50" y2="12"/>
<line class="hr" x1="10.1" y1="7.2" x2="47.5" y2="51"/><line class="hr" x1="42.9" y1="54.8" x2="5.5" y2="11"/>
<line class="ar" x1="45.2" y1="9.1" x2="7.8" y2="52.9"/>
<line class="ar" x1="12" y1="62" x2="41" y2="62"/>
<circle class="w" cx="0" cy="0" r="6"/><text class="nt" x="0" y="2.8">1</text>
<circle class="w" cx="53" cy="0" r="6"/><text class="nt" x="53" y="2.8">2</text>
<circle class="r" cx="0" cy="62" r="6"/><text class="nt" x="0" y="64.8">3</text>
<circle class="w" cx="53" cy="62" r="6"/><text class="nt" x="53" y="64.8">4</text>
</g>

<g id="legendE">
<rect x="411" y="857" width="79" height="39" fill="#fff" stroke="#aaa" stroke-width="0.8"/>
<circle class="y" cx="423" cy="868" r="5"/><text x="432" y="870.5" font-size="6.8" fill="#222">enriched for Glu</text>
<circle class="r" cx="423" cy="882" r="5"/><text x="432" y="884.5" font-size="6.8" fill="#222">enriched for ACh</text>
</g>
</svg>
